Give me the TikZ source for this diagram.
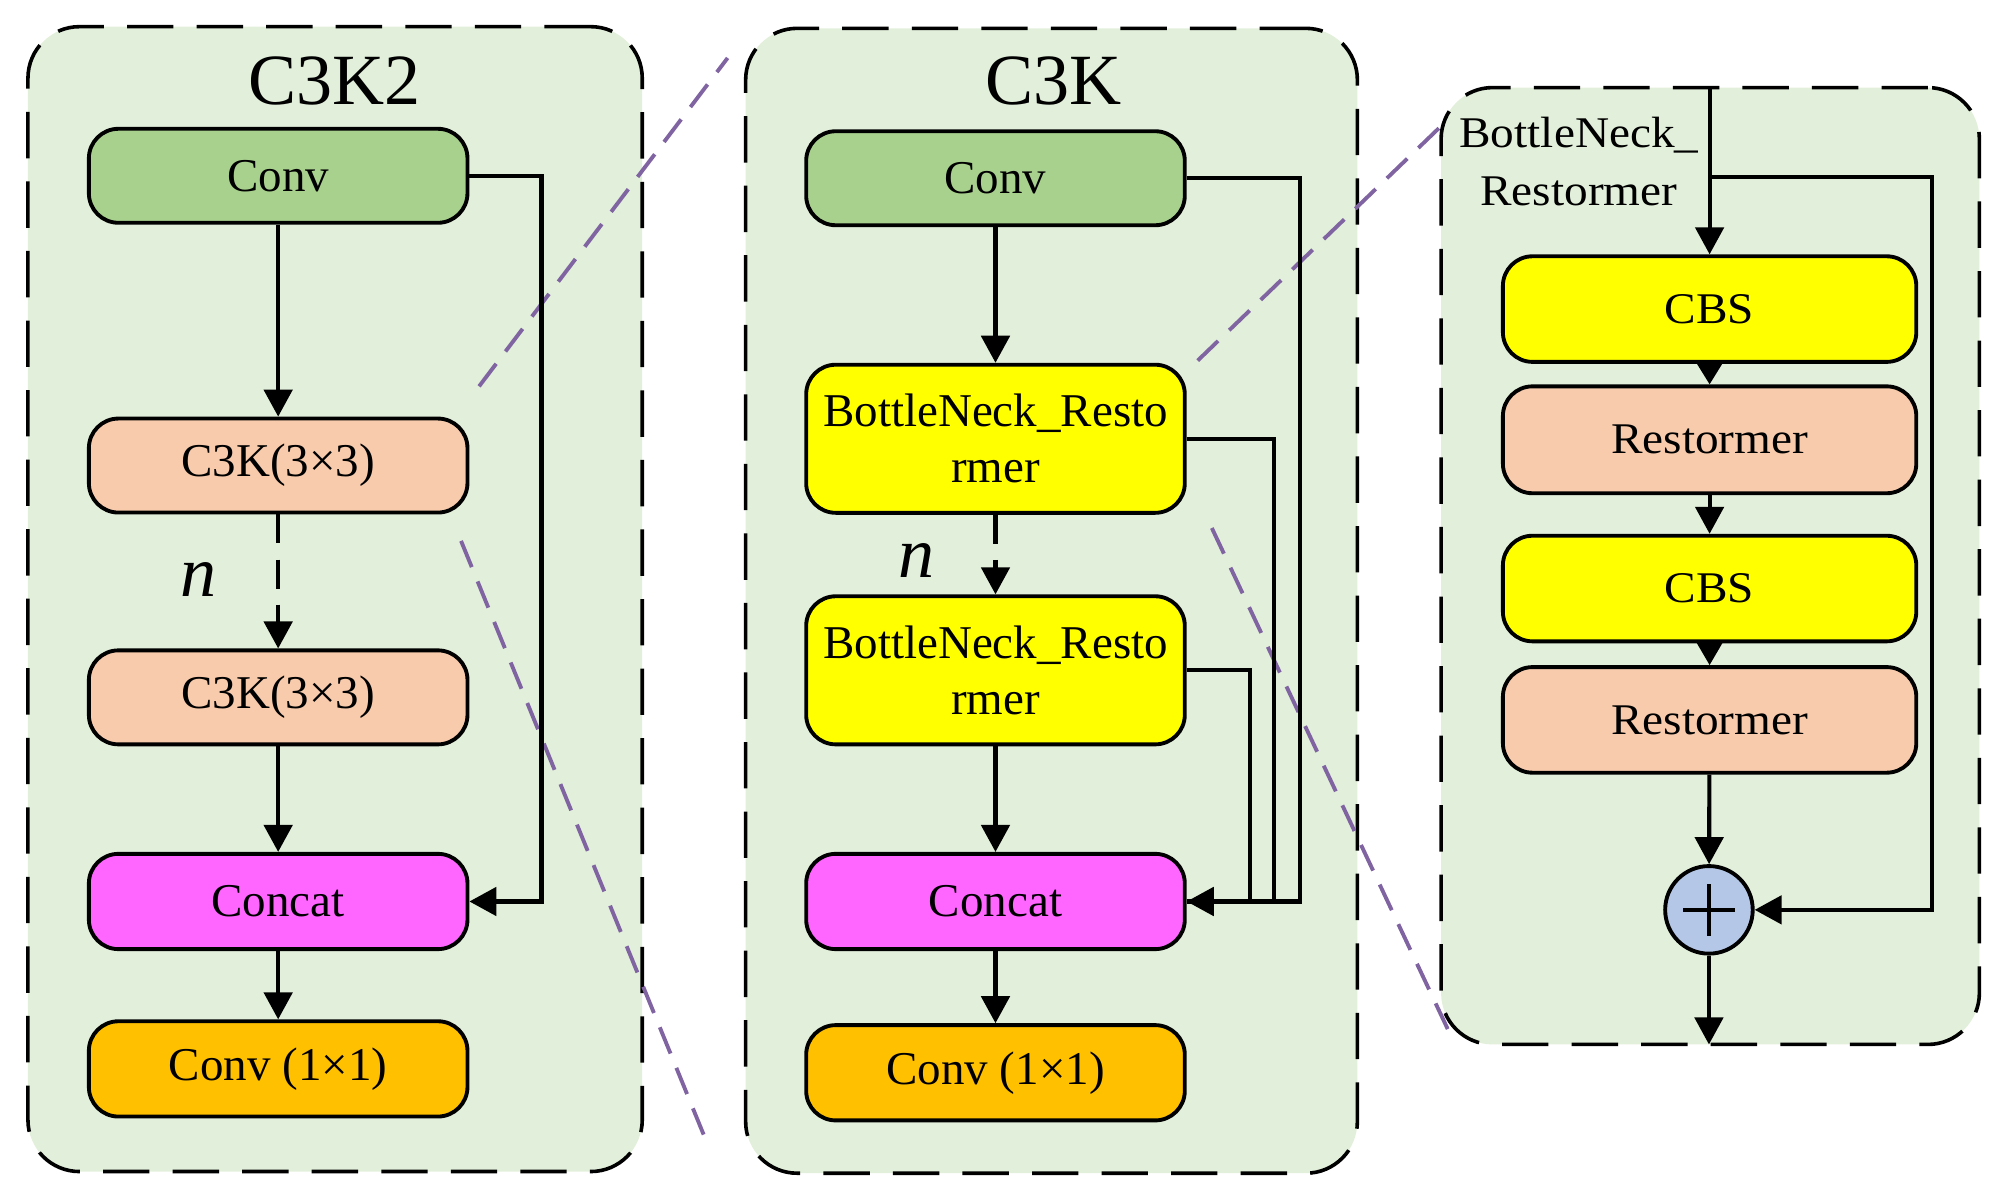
\documentclass[tikz,border=0pt]{standalone}
\usepackage{fontspec}
\setmainfont{Liberation Serif}
\newfontfamily\widefont[FakeStretch=1.08]{Liberation Serif}
\usetikzlibrary{arrows.meta,shapes.geometric}
\definecolor{panelbg}{HTML}{E2EFDA}
\definecolor{cgreen}{HTML}{A9D18E}
\definecolor{cpeach}{HTML}{F8CBAD}
\definecolor{cmag}{HTML}{FF66FF}
\definecolor{corange}{HTML}{FFC000}
\definecolor{cyel}{HTML}{FFFF00}
\definecolor{cblue}{HTML}{B4C7E7}
\definecolor{cpurple}{HTML}{8064A2}
\begin{document}
\begin{tikzpicture}[x=1pt,y=-1pt,
 panel/.style={draw=black, fill=panelbg, line width=2.8pt, dash pattern=on 36pt off 18pt, rounded corners=40pt, inner sep=0pt},
 blk/.style={draw=black, line width=3pt, rounded corners=23pt, minimum width=294pt, inner sep=0pt, align=center, font=\fontsize{36.5}{43.5}\selectfont},
 wblk/.style={blk, minimum width=321pt, font=\widefont\fontsize{34}{42}\selectfont},
 conn/.style={line width=3.2pt, -{Triangle[length=21pt,width=22pt]}},
 plain/.style={line width=3.2pt},
 dconn/.style={conn, dash pattern=on 22.5pt off 12.5pt},
 link/.style={draw=cpurple, line width=3pt, dash pattern=on 22pt off 12pt},
 title/.style={font=\fontsize{56}{60}\selectfont},
 nlab/.style={font=\fontsize{56}{60}\selectfont\itshape, inner sep=0pt},
]
\useasboundingbox (0,0) rectangle (1560,932);
% panels
\node[panel, minimum width=477pt, minimum height=889pt] (p1) at (260.2,465.2) {};
\node[panel, minimum width=475pt, minimum height=889pt] (p2) at (816.5,466.5) {};
\node[panel, minimum width=418pt, minimum height=743pt] (p3) at (1328,439.5) {};
% purple zoom links
\coordinate (l1a) at (372,300); \coordinate (l1b) at (565,45);
\coordinate (l2a) at (358,420); \coordinate (l2b) at (548,885);
\coordinate (l3a) at (930,280); \coordinate (l3b) at (1122,95);
\coordinate (l4a) at (941,410); \coordinate (l4b) at (1126,803);
\draw[link] (l1a) -- (l1b);
\draw[link] (l2a) -- (l2b);
\draw[link] (l3a) -- (l3b);
\draw[link] (l4a) -- (l4b);
% titles
\node[title] (t1) at (260,62.5) {C3K2};
\node[title] (t2) at (818,62.5) {C3K};
\node[font=\widefont\fontsize{34}{44.8}\selectfont, align=center, inner sep=0pt] (t3) at (1226,125.2) {BottleNeck\_\\Restormer};
% panel 1
\node[blk, fill=cgreen, minimum height=73pt] (conv1) at (216,136.5) {Conv};
\node[blk, fill=cpeach, minimum height=73pt] (k1) at (216,361.5) {C3K(3×3)};
\node[blk, fill=cpeach, minimum height=73pt] (k2) at (216,541.5) {C3K(3×3)};
\node[blk, fill=cmag, minimum height=74pt] (cat1) at (216,700) {Concat};
\node[blk, fill=corange, minimum height=74pt] (out1) at (216,830) {Conv (1×1)};
\node[nlab] (n1) at (154,450) {n};
\draw[conn] (conv1) -- (k1);
\draw[dconn] (k1) -- (k2);
\draw[conn] (k2) -- (cat1);
\draw[conn] (cat1) -- (out1);
\draw[conn] (conv1.east) -- ++(56,0) |- (cat1.east);
% panel 2
\node[blk, fill=cgreen, minimum height=73pt] (conv2) at (773,138.4) {Conv};
\node[blk, fill=cyel, minimum height=115pt] (bn1) at (773,340.7) {BottleNeck\_Resto\\rmer};
\node[blk, fill=cyel, minimum height=115pt] (bn2) at (773,520.5) {BottleNeck\_Resto\\rmer};
\node[blk, fill=cmag, minimum height=74pt] (cat2) at (773,700) {Concat};
\node[blk, fill=corange, minimum height=74pt] (out2) at (773,833) {Conv (1×1)};
\node[nlab] (n2) at (711.5,435.5) {n};
\draw[conn] (conv2) -- (bn1);
\draw[dconn] (bn1) -- (bn2);
\draw[conn] (bn2) -- (cat2);
\draw[conn] (cat2) -- (out2);
\draw[plain] (bn1.east) -- ++(68,0) |- (cat2.east);
\draw[plain] (bn2.east) -- ++(49,0) |- (cat2.east);
\draw[conn] (conv2.east) -- ++(88,0) |- (cat2.east);
% panel 3
\node[wblk, fill=cyel, minimum height=82pt] (cbs1) at (1327.5,240) {CBS};
\node[wblk, fill=cpeach, minimum height=83pt] (r1) at (1327.5,341.5) {Restormer};
\node[wblk, fill=cyel, minimum height=82pt] (cbs2) at (1327.5,457) {CBS};
\node[wblk, fill=cpeach, minimum height=82pt] (r2) at (1327.5,559) {Restormer};
\node[circle, draw=black, fill=cblue, line width=3pt, minimum size=68pt, inner sep=0pt] (plus) at (1327,706.5) {};
\draw[line width=2.8pt] (plus.center) ++(-20,0) -- ++(40,0);
\draw[line width=2.8pt] (plus.center) ++(0,-20) -- ++(0,40);
\coordinate (in3) at (1327.5,68);
\coordinate (br3) at (1327.5,137.6);
\coordinate (out3) at (1327,811);
\draw[conn] (in3) -- (cbs1);
\draw[conn, -{Triangle[length=17pt,width=20pt]}] (cbs1) -- (r1);
\draw[conn] (r1) -- (cbs2);
\draw[conn, -{Triangle[length=18pt,width=20pt]}] (cbs2) -- (r2);
\draw[conn] (r2) -- (plus);
\draw[conn] (plus) -- (out3);
\draw[conn] (br3) -- ++(172.5,0) |- (plus.east);
\end{tikzpicture}
\end{document}
